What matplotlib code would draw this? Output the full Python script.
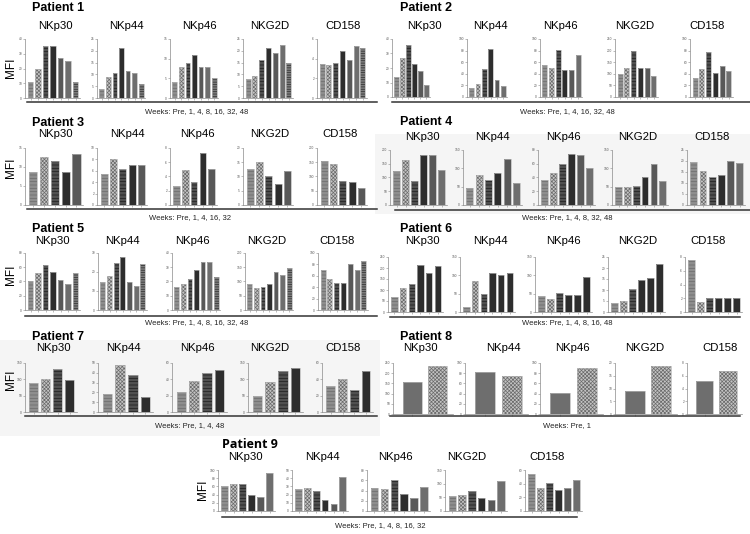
import numpy as np
import matplotlib
matplotlib.use("Agg")
from matplotlib import pyplot as plt
from matplotlib.patches import Rectangle

plt.rcParams['font.family'] = ['Liberation Sans', 'DejaVu Sans']
plt.rcParams['hatch.linewidth'] = 0.5

W, H = 750, 534

markers = ["NKp30", "NKp44", "NKp46", "NKG2D", "CD158"]

# weeks shown under each patient
weeks_p1 = ["Pre", "1", "4", "8", "16", "32", "48"]
weeks_p2 = ["Pre", "1", "4", "16", "32", "48"]
weeks_p3 = ["Pre", "1", "4", "16", "32"]
weeks_p4 = ["Pre", "1", "4", "8", "32", "48"]
weeks_p5 = ["Pre", "1", "4", "8", "16", "32", "48"]
weeks_p6 = ["Pre", "1", "4", "8", "16", "48"]
weeks_p7 = ["Pre", "1", "4", "48"]
weeks_p8 = ["Pre", "1"]
weeks_p9 = ["Pre", "1", "4", "8", "16", "32"]

# MFI values, one list per marker (NKp30, NKp44, NKp46, NKG2D, CD158)
mfi_p1 = [[11, 20, 35, 35, 27, 25, 11],
          [3.8, 8.7, 10.6, 21.3, 11.5, 10.4, 5.8],
          [4, 8, 9, 11, 8, 8, 5],
          [8.2, 9.5, 16, 21, 19, 22.5, 14.7],
          [3.5, 3.4, 3.6, 4.8, 3.9, 5.3, 5.1]]
mfi_p2 = [[14, 27, 36, 23, 18, 8.5],
          [15, 23, 49, 82, 30, 19],
          [55, 50, 81, 46, 46, 72],
          [97, 123, 197, 123, 127, 90],
          [33, 48, 77, 41, 53, 45]]
mfi_p3 = [[8.8, 12.5, 11.5, 8.8, 13.3],
          [5.4, 8, 6.4, 7, 7],
          [2.7, 4.9, 3.2, 7.3, 5],
          [12.8, 15.2, 10, 7.4, 12],
          [155, 143, 85, 82, 58]]
mfi_p4 = [[125, 165, 87, 183, 183, 126],
          [45, 82, 67, 87, 126, 60],
          [37, 47, 60, 74, 72, 54],
          [48, 48, 52, 76, 112, 65],
          [19.5, 15.3, 12.5, 13.8, 20, 19]]
mfi_p5 = [[41, 52, 63, 54, 42, 37, 52],
          [15, 18, 24.5, 28, 14.5, 12.7, 24],
          [16, 18, 22, 28, 33.5, 33.5, 23.5],
          [90, 78, 79, 92, 135, 122, 147],
          [71, 54, 47, 48, 80, 71, 86]]
mfi_p6 = [[70, 108, 128, 212, 178, 207],
          [15, 85, 50, 106, 100, 106],
          [45, 36, 51, 46, 46, 96],
          [4.3, 5.2, 10.5, 14.5, 15.5, 21.8],
          [7.5, 1.4, 2, 2.1, 2, 2.1]]
mfi_p7 = [[88, 102, 133, 98],
          [18, 47.5, 38, 15.5],
          [25, 38, 48, 52],
          [48, 92, 127, 135],
          [32, 40, 27, 50]]
mfi_p8 = [[155, 233],
          [82, 75],
          [42, 91],
          [9, 19],
          [5.2, 6.8]]
mfi_p9 = [[61, 65, 65, 40, 33, 93],
          [27, 28, 25, 14, 8, 41],
          [45, 42, 60, 34, 25, 46],
          [55, 57, 75, 49, 40, 110],
          [54, 34, 41, 31, 34, 46]]

# y axis maximum and tick step per marker
ymax_p1 = [(40, 10), (25, 5), (15, 5), (25, 5), (6, 2)]
ymax_p2 = [(40, 10), (100, 20), (100, 20), (250, 50), (100, 20)]
ymax_p3 = [(15, 5), (10, 2), (8, 2), (20, 5), (200, 50)]
ymax_p4 = [(200, 50), (150, 50), (80, 20), (150, 50), (25, 5)]
ymax_p5 = [(80, 20), (30, 10), (40, 10), (200, 50), (100, 20)]
ymax_p6 = [(250, 50), (150, 50), (150, 50), (25, 5), (8, 2)]
ymax_p7 = [(150, 50), (50, 10), (60, 20), (150, 50), (60, 20)]
ymax_p8 = [(250, 50), (100, 20), (100, 20), (20, 5), (8, 2)]
ymax_p9 = [(100, 20), (50, 10), (80, 20), (150, 50), (60, 20)]

# bar looks: face colour, hatch, hatch colour
looks = {
    "pre": ("#8e8e8e", "-----", "#6a6a6a"),
    "chk": ("#c4c4c4", "xxxxxxxxx", "#6a6a6a"),
    "dstr": ("#505050", "-----", "#1c1c1c"),
    "dark": ("#2d2d2d", None, None),
    "mid": ("#585858", None, None),
    "mid2": ("#6e6e6e", None, None),
    "str": ("#7c7c7c", "-------", "#2c2c2c"),
}
default_seq = ["pre", "chk", "dstr", "dark", "mid", "mid2", "str"]

# layout in pixels: title pos, subtitle y, subtitle x, axes lefts/rights, top, bottom, line, weeks label
panels = [
    dict(name="Patient 1", weeks=weeks_p1, mfi=mfi_p1, ymax=ymax_p1, tx=32, ty=8, sy=26,
         sx=[55, 126, 199, 270, 343], l=[25, 97, 170, 243, 317], r=[80, 145, 218, 293, 367],
         top=39, bot=98, line=(27, 377, 102), wy=112, wx=197, mfi_lab=(11, 68)),
    dict(name="Patient 2", weeks=weeks_p2, mfi=mfi_p2, ymax=ymax_p2, tx=400, ty=8, sy=26,
         sx=[424, 490, 560, 635, 707], l=[392, 467, 540, 615, 690], r=[430, 507, 582, 658, 733],
         top=39, bot=97, line=(392, 750, 102), wy=112, wx=567),
    dict(name="Patient 3", weeks=weeks_p3, mfi=mfi_p3, ymax=ymax_p3, tx=32, ty=123, sy=134,
         sx=[55, 127, 197, 270, 340], l=[25, 97, 170, 243, 317], r=[83, 147, 217, 293, 367],
         top=148, bot=205, line=(27, 377, 209), wy=218, wx=190, mfi_lab=(11, 168)),
    dict(name="Patient 4", weeks=weeks_p4, mfi=mfi_p4, ymax=ymax_p4, tx=400, ty=122, sy=137,
         sx=[422, 492, 563, 638, 712], l=[390, 463, 538, 612, 687], r=[447, 522, 595, 668, 745],
         top=150, bot=205, line=(395, 750, 210), wy=218, wx=567),
    dict(name="Patient 5", weeks=weeks_p5, mfi=mfi_p5, ymax=ymax_p5, tx=32, ty=229, sy=241,
         sx=[52, 122, 192, 267, 337], l=[25, 98, 172, 245, 318], r=[80, 147, 220, 293, 368],
         top=253, bot=310, line=(25, 377, 316), wy=323, wx=197, mfi_lab=(11, 275)),
    dict(name="Patient 6", weeks=weeks_p6, mfi=mfi_p6, ymax=ymax_p6, tx=400, ty=229, sy=241,
         sx=[422, 490, 563, 638, 708], l=[388, 460, 535, 608, 685], r=[443, 515, 592, 665, 742],
         top=257, bot=312, line=(390, 740, 317), wy=323, wx=567,
         seq=["pre", "chk", "dstr", "dark", "dark", "dark"]),
    dict(name="Patient 7", weeks=weeks_p7, mfi=mfi_p7, ymax=ymax_p7, tx=32, ty=337, sy=348,
         sx=[53, 123, 197, 270, 343], l=[25, 98, 172, 248, 322], r=[77, 153, 227, 303, 373],
         top=363, bot=412, line=(25, 377, 416), wy=426, wx=190, mfi_lab=(11, 380)),
    dict(name="Patient 8", weeks=weeks_p8, mfi=mfi_p8, ymax=ymax_p8, tx=400, ty=337, sy=348,
         sx=[420, 503, 572, 645, 720], l=[393, 465, 540, 615, 687], r=[453, 528, 603, 677, 742],
         top=363, bot=414, line=(390, 740, 416), wy=426, wx=567, seq=["mid2", "chk"]),
    dict(name="Patient 9", weeks=weeks_p9, mfi=mfi_p9, ymax=ymax_p9, tx=222, ty=445, sy=457,
         sx=[245, 322, 395, 467, 547], l=[218, 292, 367, 445, 525], r=[275, 348, 430, 507, 582],
         top=470, bot=511, line=(222, 577, 517), wy=526, wx=380, mfi_lab=(203, 490),
         tfont="Open Sans"),
]

fig = plt.figure(figsize=(W / 100, H / 100), dpi=100)

# faint grey backdrops behind patient 4 and 7
fig.patches.append(Rectangle((375 / W, 1 - 214 / H), 375 / W, 80 / H, transform=fig.transFigure,
                             facecolor="#f5f5f5", edgecolor="none", zorder=-5))
fig.patches.append(Rectangle((0, 1 - 436 / H), 380 / W, 96 / H, transform=fig.transFigure,
                             facecolor="#f5f5f5", edgecolor="none", zorder=-5))


def fx(px):
    return px / W


def fy(py):
    return 1 - py / H


for p in panels:
    seq = p.get("seq", default_seq)
    fig.text(fx(p["tx"]), fy(p["ty"]), p["name"], fontsize=9, fontweight="bold",
             va="center", ha="left", family=p.get("tfont", "Liberation Sans"))
    for i, m in enumerate(markers):
        ax = fig.add_axes([fx(p["l"][i]), fy(p["bot"]), (p["r"][i] - p["l"][i]) / W,
                           (p["bot"] - p["top"]) / H])
        ax.patch.set_alpha(0)
        vals = p["mfi"][i]
        n = len(vals)
        xs = np.arange(n)
        for j, v in enumerate(vals):
            face, hatch, hcol = looks[seq[j]]
            if hatch:
                ax.bar(xs[j], v, width=0.75, color=face, edgecolor=hcol, linewidth=0, hatch=hatch)
            else:
                ax.bar(xs[j], v, width=0.75, color=face, linewidth=0)
            ax.bar(xs[j], v, width=0.75, fill=False, edgecolor="#b5b5b5", linewidth=0.5)
        top, step = p["ymax"][i]
        ax.set_ylim(0, top)
        ax.set_xlim(-0.75, n - 0.4)
        ax.set_yticks(np.arange(0, top + step / 2, step))
        ax.set_xticks(xs)
        ax.set_xticklabels([])
        for s in ["top", "right"]:
            ax.spines[s].set_visible(False)
        for s in ["left", "bottom"]:
            ax.spines[s].set_color("#8a8a8a")
            ax.spines[s].set_linewidth(0.5)
        ax.tick_params(length=1.5, width=0.4, colors="#8a8a8a", labelsize=2.3, pad=0.6,
                       labelcolor="#555555")
        fig.text(fx(p["sx"][i]), fy(p["sy"]), m, fontsize=8.2, ha="center", va="center")
    x0, x1, ly = p["line"]
    fig.add_artist(plt.Line2D([fx(x0), fx(x1)], [fy(ly), fy(ly)], color="#333333", linewidth=1.1))
    fig.text(fx(p["wx"]), fy(p["wy"]), "Weeks: " + ", ".join(p["weeks"]), fontsize=5.5,
             ha="center", va="center", color="#222222")
    if "mfi_lab" in p:
        mx, my = p["mfi_lab"]
        fig.text(fx(mx), fy(my), "MFI", fontsize=8.5, rotation=90, ha="center", va="center")

fig.savefig("out.png", dpi=100, facecolor="white")
